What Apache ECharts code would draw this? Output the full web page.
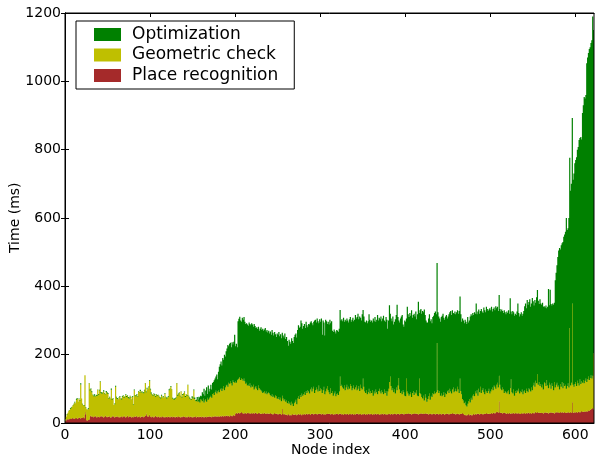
<!DOCTYPE html>
<html>
<head>
<meta charset="utf-8">
<script src="https://cdn.jsdelivr.net/npm/echarts@6/dist/echarts.min.js"></script>
<style>
html,body{margin:0;padding:0;background:#fff;}
#chart{width:595px;height:462px;}
</style>
</head>
<body>
<div id="chart"></div>
<script>
// Place recognition (ms) per node
const placeRecognition = [
5,8,10,12,10,12,14,12,15,13,
14,12,15,16,12,14,17,15,13,16,
15,18,14,25,32,8,7,9,10,20,
22,18,20,17,19,21,18,16,20,18,
17,19,21,18,20,16,19,22,18,17,
19,18,20,16,17,19,21,18,16,19,
18,20,17,19,16,18,20,17,19,21,
18,16,19,22,17,19,20,18,16,19,
17,20,18,19,21,17,18,20,16,19,
18,20,17,19,21,28,22,18,20,24,
19,17,20,18,16,19,21,18,17,20,
18,16,19,17,20,18,16,19,17,18,
17,19,18,16,20,18,17,19,18,16,
19,18,17,20,18,16,19,17,18,20,
18,17,19,16,18,20,17,19,18,16,
19,17,18,20,16,19,18,17,19,18,
17,19,18,16,20,18,17,19,18,20,
18,19,17,20,18,19,21,18,20,19,
20,18,21,19,20,22,19,21,20,22,
21,20,22,19,23,21,20,22,24,21,
28,30,27,29,31,28,30,32,29,27,
29,28,30,27,31,29,28,30,27,29,
28,30,27,29,31,28,26,29,30,27,
28,26,29,27,30,28,26,29,27,28,
27,29,26,28,25,27,29,26,28,27,
25,27,26,28,24,41,26,25,27,24,
25,23,26,24,22,25,23,26,24,25,
24,26,23,25,27,24,26,25,23,26,
25,27,24,26,28,25,27,26,24,27,
26,28,25,27,26,28,25,27,26,28,
27,25,28,26,24,27,25,28,26,27,
26,28,25,27,26,24,27,25,26,28,
26,25,27,28,26,25,27,24,26,27,
25,27,26,24,28,26,25,27,26,24,
26,25,27,28,26,25,27,26,24,27,
25,27,26,24,27,25,26,28,25,27,
26,24,27,25,26,28,25,27,26,24,
27,25,26,28,25,27,26,24,27,25,
26,28,25,27,26,25,27,26,28,25,
27,26,28,25,27,26,28,27,25,26,
28,26,27,29,26,28,27,25,28,26,
27,29,26,28,27,25,28,26,29,27,
28,26,27,29,26,28,27,25,28,26,
27,25,28,26,27,25,28,26,27,25,
26,28,25,27,26,28,24,27,26,28,
27,25,28,26,27,29,26,28,27,25,
28,26,27,25,28,26,27,29,26,24,
23,25,22,24,26,23,25,24,22,25,
26,24,27,25,28,26,27,25,28,26,
27,25,28,26,27,29,26,28,27,26,
28,30,27,29,31,28,30,32,33,30,
64,31,29,30,28,31,29,30,28,27,
29,27,30,28,27,29,28,30,27,29,
28,30,27,29,28,26,29,27,30,28,
29,27,30,28,31,29,28,30,27,29,
30,28,31,33,29,32,30,31,29,30,
29,31,28,30,32,29,31,30,28,31,
30,32,29,31,30,28,31,33,30,32,
31,29,32,30,33,31,30,32,29,31,
30,32,31,29,33,30,61,31,30,32,
31,33,30,32,34,31,33,35,32,34,
33,35,32,36,34,37,35,38,40,42,44,40
];
// Geometric check (ms) per node
const geometricCheck = [
7,10,15,18,25,26,28,33,33,39,
41,48,43,52,60,48,53,51,100,56,
40,34,36,115,13,32,31,33,106,75,
77,72,62,61,61,56,63,63,77,64,
78,102,67,67,70,76,67,62,73,71,
66,54,55,54,80,49,51,35,39,87,
57,50,51,54,61,53,49,59,61,53,
60,66,57,58,57,53,59,57,52,58,
36,76,62,59,61,60,74,70,78,70,
74,68,70,76,95,62,78,79,85,99,
79,69,63,61,69,62,56,66,63,62,
60,59,53,63,54,59,57,66,59,54,
57,57,78,84,86,80,55,51,50,55,
54,98,63,64,70,62,73,58,64,66,
72,59,65,64,93,58,55,51,50,58,
53,79,52,46,48,49,44,48,41,52,
51,45,54,44,46,52,45,55,50,52,
58,61,57,65,70,63,69,77,66,73,
76,72,77,83,74,78,89,75,84,88,
91,86,96,96,99,95,90,103,96,97,
94,88,98,99,99,107,96,100,99,97,
101,94,85,91,79,83,80,86,77,81,
78,82,71,75,77,72,70,81,72,71,
68,66,59,63,64,58,66,55,61,62,
59,53,52,56,51,53,45,56,50,45,
45,49,42,46,40,39,46,41,43,38,
41,35,38,32,38,27,39,30,26,33,
38,42,32,47,51,46,56,51,63,54,
59,63,58,68,60,71,65,60,74,77,
66,72,81,61,70,76,73,65,84,66,
75,73,60,70,82,57,67,72,82,69,
64,56,77,61,68,56,59,67,52,56,
62,57,65,108,82,87,77,76,84,69,
79,85,72,82,72,88,83,69,76,86,
72,79,83,68,74,83,67,86,78,71,
105,79,66,64,69,59,64,72,61,67,
62,72,53,67,60,70,65,57,68,76,
65,61,70,62,59,71,62,70,53,67,
74,92,111,81,70,77,63,72,58,79,
69,84,104,73,61,66,56,69,65,54,
50,104,65,57,54,56,63,51,60,68,
55,61,60,68,53,53,102,62,55,49,
44,54,39,55,48,34,43,53,58,42,
53,51,60,58,65,61,62,208,69,63,
68,52,61,51,56,62,52,61,58,64,
69,63,72,66,59,69,78,62,67,75,
64,80,71,63,102,68,57,41,40,34,
39,27,26,32,38,47,35,50,46,55,
58,54,65,61,68,54,73,65,78,62,
69,77,62,58,71,63,62,66,73,60,
64,68,77,67,79,78,70,80,85,74,
74,81,71,66,76,67,59,64,62,59,
63,69,54,74,101,61,58,68,53,65,
60,66,65,71,58,68,61,71,54,64,
67,61,70,66,59,73,70,62,77,67,
80,90,75,91,87,111,82,89,79,84,
75,81,70,90,84,79,95,80,74,87,
82,68,87,77,66,92,73,79,88,74,
79,69,82,76,87,71,86,76,83,69,
78,84,73,249,77,88,289,81,76,82,
89,75,94,84,76,97,81,87,86,92,
83,89,98,84,94,99,91,94,100,88,94,164
];
// Optimization (ms) per node
const optimization = [
0,0,1,0,1,0,2,1,0,1,
1,2,0,3,1,0,2,1,3,0,
1,0,2,0,1,0,1,2,1,3,
2,3,1,2,4,1,2,3,1,2,
2,1,3,2,1,4,2,1,3,2,
3,1,2,1,4,2,1,0,2,3,
2,3,1,2,2,1,3,2,1,2,
1,2,3,1,2,3,1,2,1,2,
1,2,1,3,2,1,2,1,3,2,
2,1,3,2,1,2,3,1,2,2,
2,3,1,2,1,3,2,1,2,1,
2,1,2,3,1,2,1,2,1,3,
1,2,3,1,2,1,2,1,3,2,
2,1,3,2,1,2,1,2,3,1,
2,3,1,2,1,2,3,1,2,4,
3,2,5,1,4,8,6,12,15,10,
10,26,12,40,14,25,43,11,42,20,
24,32,24,32,32,43,40,41,56,36,
54,75,74,78,74,90,77,104,91,100,
106,122,107,117,113,106,126,105,118,140,
103,114,97,170,175,176,174,164,180,178,
180,174,175,174,178,173,186,174,182,182,
182,170,192,180,170,180,179,172,168,178,
184,180,188,180,180,192,176,188,177,180,
176,186,180,188,188,176,192,178,174,190,
188,190,186,186,184,184,184,184,192,184,
186,182,162,188,178,180,186,184,184,194,
196,194,195,200,208,208,200,224,206,196,
200,200,196,202,198,184,198,202,196,194,
200,186,190,212,206,190,208,206,182,210,
194,208,170,204,188,172,210,198,182,200,
198,218,190,210,176,186,188,176,184,188,
182,184,184,195,192,192,194,208,186,206,
194,194,202,188,204,196,188,206,206,188,
204,212,196,214,220,196,218,196,198,220,
201,206,204,206,204,208,208,218,216,202,
212,198,226,206,224,198,212,232,206,208,
212,226,202,216,230,202,208,216,222,184,
200,225,184,198,202,210,198,198,218,212,
250,200,168,196,218,220,232,192,192,220,
218,176,248,232,230,238,224,254,220,222,
238,222,240,208,238,277,192,242,250,244,
256,244,266,232,226,232,224,228,232,230,
224,216,222,230,230,240,228,234,228,224,
212,216,224,236,238,218,226,224,232,214,
216,230,224,236,230,232,218,230,232,218,
232,224,222,240,240,224,212,236,234,234,
240,244,242,254,230,230,252,244,246,242,
232,246,228,264,222,246,232,230,222,246,
230,220,248,246,226,248,246,234,232,250,
238,242,222,238,228,224,242,224,222,224,
237,222,226,236,224,224,242,230,228,240,
230,234,236,263,198,228,242,226,234,226,
228,230,258,222,226,224,234,216,236,236,
246,262,236,266,256,252,264,248,246,270,
246,226,254,228,252,246,246,228,254,236,
242,240,242,222,222,236,210,230,290,227,
278,248,228,242,250,232,314,328,344,380,
395,414,394,414,406,428,429,444,448,500,
457,454,496,498,570,582,543,600,624,646,
650,670,676,692,718,706,723,708,789,804,
838,826,830,933,942,947,969,968,972,990,1052,946
];
const nodeIndex = placeRecognition.map((_, i) => i);
const xTicks = [0, 100, 200, 300, 400, 500, 600];
const yTicks = [0, 200, 400, 600, 800, 1000, 1200];
const seriesNames = ['Optimization', 'Geometric check', 'Place recognition'];

const FONT = 'DejaVu Sans';
const chart = echarts.init(document.getElementById('chart'), null, {renderer: 'canvas'});
const tickStyle = {show: true, inside: true, length: 4, lineStyle: {color: '#000', width: 1}};
const plain = v => String(v);
const barCommon = {type: 'bar', stack: 'total', xAxisIndex: 0, yAxisIndex: 0, barWidth: 1.2,
  large: true, largeThreshold: 100, emphasis: {disabled: true}, silent: true};
const option = {
  animation: false,
  backgroundColor: '#fff',
  grid: {left: 65, top: 13, width: 529, height: 410, show: true, borderColor: '#000', borderWidth: 1, backgroundColor: 'transparent', z: 10},
  legend: {
    orient: 'vertical', left: 76, top: 21,
    data: seriesNames,
    icon: 'rect', itemWidth: 27, itemHeight: 13, itemGap: 3.5,
    selectedMode: false,
    backgroundColor: '#fff', borderColor: '#000', borderWidth: 1, borderRadius: 0,
    padding: [5, 16, 5, 18],
    textStyle: {fontFamily: FONT, fontSize: 17, lineHeight: 17, color: '#000', padding: [0, 0, 0, 6]}
  },
  xAxis: [
    {type: 'category', data: nodeIndex, show: false, position: 'bottom', boundaryGap: true},
    {type: 'value', min: 0, max: 622, interval: 100, position: 'bottom',
     axisLine: {show: true, lineStyle: {color: '#000'}}, axisTick: Object.assign({customValues: xTicks}, tickStyle),
     splitLine: {show: false},
     axisLabel: {customValues: xTicks, formatter: plain, fontFamily: FONT, fontSize: 14, color: '#000', margin: 5}},
    {type: 'value', min: 0, max: 622, interval: 100, position: 'top',
     axisLine: {show: true, lineStyle: {color: '#000'}}, axisTick: Object.assign({customValues: xTicks}, tickStyle),
     splitLine: {show: false}, axisLabel: {show: false}}
  ],
  yAxis: [
    {type: 'value', min: 0, max: 1200, interval: 200, position: 'left',
     axisLine: {show: true, lineStyle: {color: '#000'}}, axisTick: Object.assign({customValues: yTicks}, tickStyle),
     splitLine: {show: false},
     axisLabel: {customValues: yTicks, formatter: plain, fontFamily: FONT, fontSize: 14, color: '#000', margin: 4}},
    {type: 'value', min: 0, max: 1200, interval: 200, position: 'right',
     axisLine: {show: true, lineStyle: {color: '#000'}}, axisTick: Object.assign({customValues: yTicks}, tickStyle),
     splitLine: {show: false}, axisLabel: {show: false}}
  ],
  series: [
    Object.assign({name: 'Place recognition', data: placeRecognition, itemStyle: {color: '#a52a2a'}}, barCommon),
    Object.assign({name: 'Geometric check', data: geometricCheck, itemStyle: {color: '#bfbf00'}}, barCommon),
    Object.assign({name: 'Optimization', data: optimization, itemStyle: {color: '#008000'}}, barCommon)
  ],
  graphic: [
    {type: 'text', left: 291, top: 443, style: {text: 'Node index', font: '14px "DejaVu Sans"', fill: '#000'}},
    {type: 'text', x: 8, y: 253, rotation: Math.PI / 2, style: {text: 'Time (ms)', font: '14px "DejaVu Sans"', fill: '#000'}}
  ]
};
chart.setOption(option);
</script>
</body>
</html>
